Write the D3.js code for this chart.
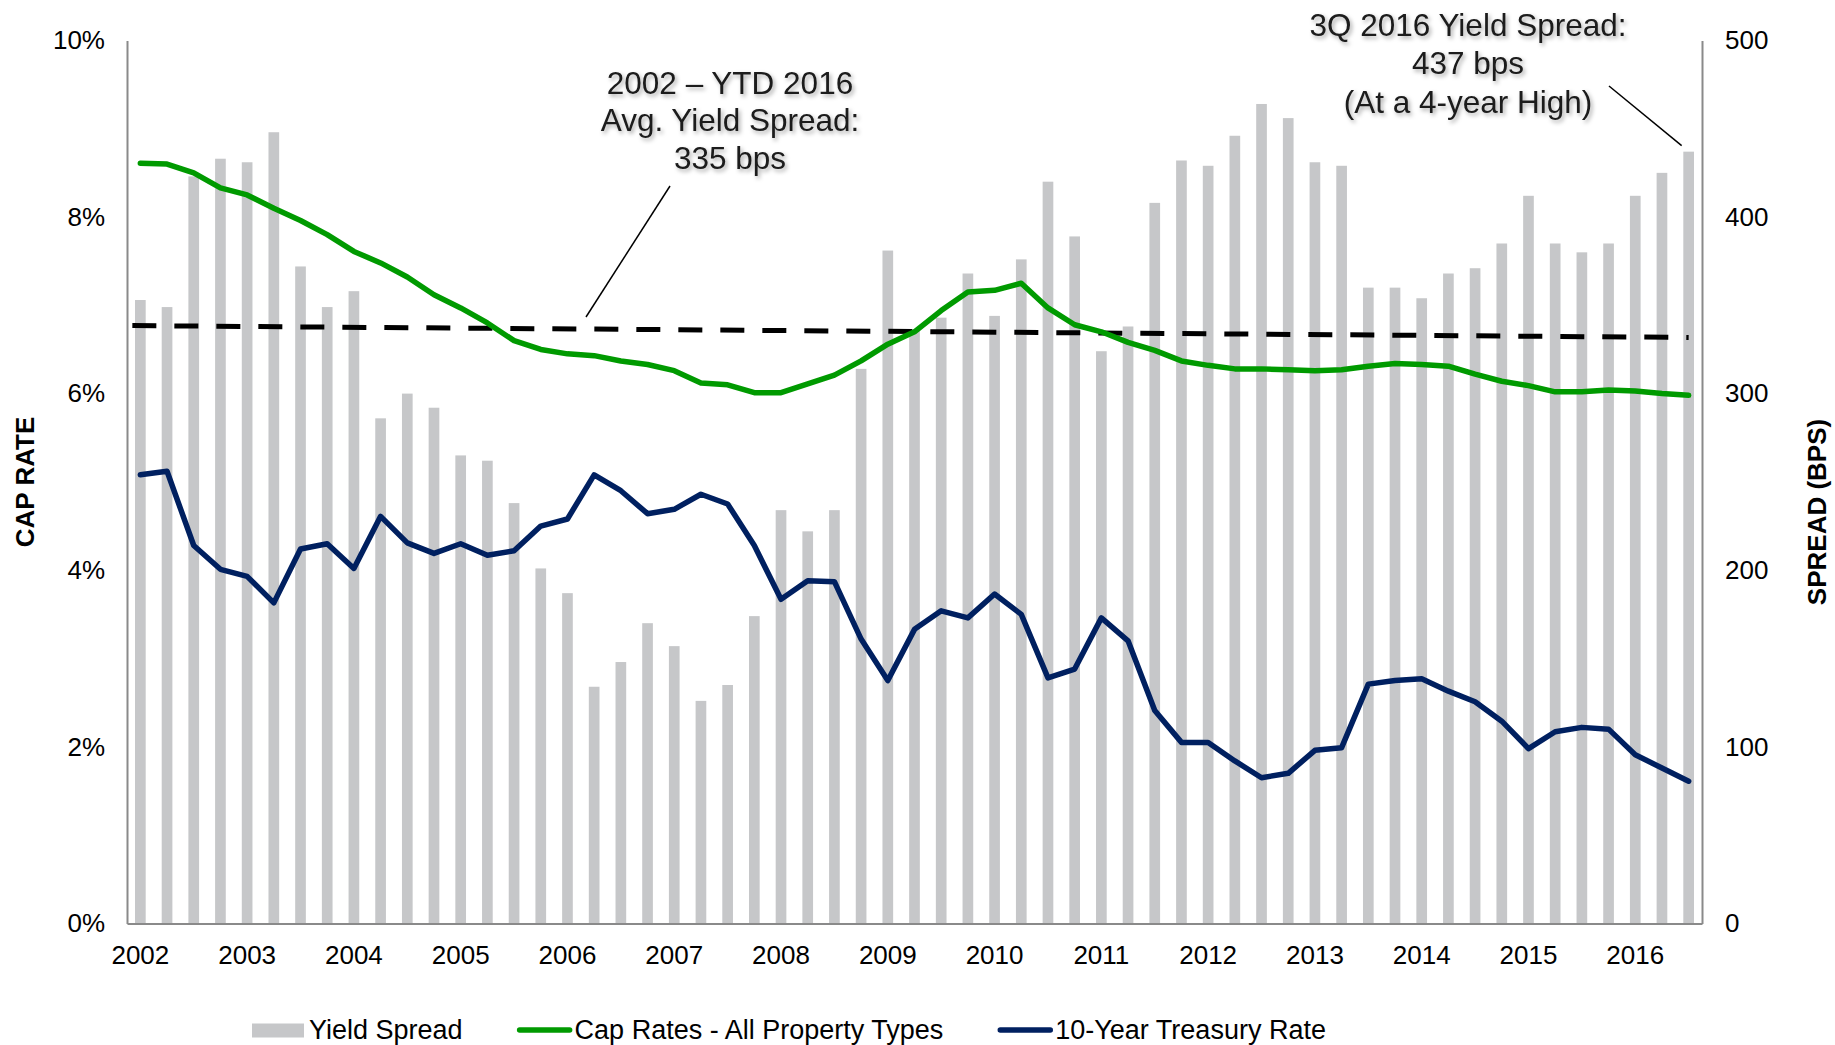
<!DOCTYPE html>
<html>
<head>
<meta charset="utf-8">
<script src="https://cdn.jsdelivr.net/npm/d3@7"></script>
<style>
	body { margin: 0; background: #fff; }
	svg { display: block; font-family: "Liberation Sans", Arial, sans-serif; }
	.axis text { font-size: 26px; fill: #000; }
	.axis path { stroke: #8a8a8a; stroke-width: 2; }
	.note { font-size: 31.5px; fill: #1a1a1a; }
</style>
</head>
<body>
<svg width="1835" height="1045"></svg>
<script>
var years = ["2002", "2003", "2004", "2005", "2006", "2007", "2008", "2009", "2010", "2011", "2012", "2013", "2014", "2015", "2016"];
var quarterNames = ["Q1", "Q2", "Q3", "Q4"];

// yield spread, bps (2002 Q1 .. 2016 Q3)
var spread = [353, 349, 423, 433, 431, 448, 372, 349, 358, 286, 300, 292, 265, 262, 238, 201,
	187, 134, 148, 170, 157, 126, 135, 174, 234, 222, 234, 314, 381, 336, 343, 368,
	344, 376, 420, 389, 324, 338, 408, 432, 429, 446, 464, 456, 431, 429, 360, 360,
	354, 368, 371, 385, 412, 385, 380, 385, 412, 425, 437];

// cap rates - all property types, %
var capRate = [8.61, 8.60, 8.50, 8.33, 8.25, 8.10, 7.96, 7.80, 7.61, 7.48, 7.32, 7.12, 6.97, 6.80, 6.60, 6.50,
	6.45, 6.43, 6.37, 6.33, 6.26, 6.12, 6.10, 6.01, 6.01, 6.11, 6.21, 6.37, 6.56, 6.70, 6.94, 7.15,
	7.17, 7.25, 6.97, 6.78, 6.70, 6.58, 6.49, 6.37, 6.32, 6.28, 6.28, 6.27, 6.26, 6.27, 6.31, 6.34,
	6.33, 6.31, 6.22, 6.14, 6.09, 6.02, 6.02, 6.04, 6.03, 6.00, 5.98];

// 10-year treasury, %
var treasury = [5.08, 5.12, 4.28, 4.01, 3.93, 3.63, 4.24, 4.30, 4.02, 4.61, 4.31, 4.19, 4.30, 4.17, 4.22, 4.50,
	4.58, 5.08, 4.90, 4.64, 4.69, 4.86, 4.75, 4.28, 3.67, 3.88, 3.87, 3.22, 2.75, 3.33, 3.54, 3.46,
	3.73, 3.50, 2.78, 2.88, 3.46, 3.20, 2.41, 2.05, 2.05, 1.84, 1.65, 1.70, 1.96, 1.99, 2.71, 2.75,
	2.77, 2.63, 2.51, 2.29, 1.98, 2.17, 2.22, 2.20, 1.91, 1.76, 1.61];

// avg spread trend line, start and end (bps)
var avgTrend = [338.5, 331.8];

var capTicks = [0, 2, 4, 6, 8, 10];
var spreadTicks = [0, 100, 200, 300, 400, 500];
var legendNames = ["Yield Spread", "Cap Rates - All Property Types", "10-Year Treasury Rate"];

var quarters = [];
for (var i = 0; i < years.length; i++) {
	for (var q = 0; q < 4; q++) {
		if (quarters.length < spread.length) quarters.push(years[i] + " " + quarterNames[q]);
	}
}

var barColor = "#c6c7c9",
	green = "#009a00",
	navy = "#002060";

var svg = d3.select("svg"),
	plotLeft = 127,
	plotRight = 1702,
	plotTop = 40.4,
	plotBottom = 923.4;

var x = d3.scaleBand().domain(quarters).range([plotLeft, plotRight]).paddingInner(0.6).paddingOuter(0.3);
var yL = d3.scaleLinear().domain([0, 10]).range([plotBottom, plotTop]);
var yR = d3.scaleLinear().domain([0, 500]).range([plotBottom, plotTop]);

var defs = svg.append("defs");
var shadow = defs.append("filter").attr("id", "shadow")
	.attr("x", "-10%").attr("y", "-30%").attr("width", "130%").attr("height", "160%");
shadow.append("feDropShadow")
	.attr("dx", 2).attr("dy", 2.5).attr("stdDeviation", 2)
	.attr("flood-color", "#000").attr("flood-opacity", 0.35);

// bars
svg.append("g").selectAll(".bar")
	.data(spread)
	.enter().append("rect")
	.attr("class", "bar")
	.attr("x", function(d, i) { return x(quarters[i]); })
	.attr("width", x.bandwidth())
	.attr("y", function(d) { return yR(d); })
	.attr("height", function(d) { return plotBottom - yR(d); })
	.attr("fill", barColor);

// axes
svg.append("g")
	.attr("class", "axis")
	.attr("transform", "translate(" + plotLeft + ",0)")
	.call(d3.axisLeft(yL).tickValues(capTicks).tickSize(0).tickPadding(22)
		.tickFormat(function(d) { return d + "%"; }));

svg.append("g")
	.attr("class", "axis")
	.attr("transform", "translate(" + plotRight + ",0)")
	.call(d3.axisRight(yR).tickValues(spreadTicks).tickSize(0).tickPadding(23));

svg.append("g")
	.attr("class", "axis")
	.attr("transform", "translate(0," + plotBottom + ")")
	.call(d3.axisBottom(x)
		.tickValues(quarters.filter(function(d) { return d.slice(-2) == "Q1"; }))
		.tickSize(0).tickPadding(22)
		.tickFormat(function(d) { return d.slice(0, 4); }));

svg.selectAll(".axis .domain").attr("stroke", "#8a8a8a");

// axis titles
svg.append("text")
	.attr("transform", "translate(25,482) rotate(-90)")
	.attr("text-anchor", "middle")
	.attr("dy", "0.35em")
	.style("font-size", "26px")
	.style("font-weight", "bold")
	.text("CAP RATE");

svg.append("text")
	.attr("transform", "translate(1817,512) rotate(-90)")
	.attr("text-anchor", "middle")
	.attr("dy", "0.35em")
	.style("font-size", "26px")
	.style("font-weight", "bold")
	.text("SPREAD (BPS)");

var cx = function(i) { return x(quarters[i]) + x.bandwidth() / 2; };
var last = spread.length - 1;

// average trend line
svg.append("line")
	.attr("x1", cx(0) - 8)
	.attr("y1", yR(avgTrend[0]))
	.attr("x2", cx(last))
	.attr("y2", yR(avgTrend[1]))
	.attr("stroke", "#000")
	.attr("stroke-width", 5)
	.attr("stroke-dasharray", "24,18");

var lineCap = d3.line()
	.x(function(d, i) { return cx(i); })
	.y(function(d) { return yL(d); });

svg.append("path")
	.datum(capRate)
	.attr("d", lineCap)
	.attr("fill", "none")
	.attr("stroke", green)
	.attr("stroke-width", 5.5)
	.attr("stroke-linejoin", "round")
	.attr("stroke-linecap", "round");

svg.append("path")
	.datum(treasury)
	.attr("d", lineCap)
	.attr("fill", "none")
	.attr("stroke", navy)
	.attr("stroke-width", 5.5)
	.attr("stroke-linejoin", "round")
	.attr("stroke-linecap", "round");

// annotations
var note1 = ["2002 \u2013 YTD 2016", "Avg. Yield Spread:", "335 bps"];
var note2 = ["3Q 2016 Yield Spread:", "437 bps", "(At a 4-year High)"];

svg.append("g").selectAll("text")
	.data(note1)
	.enter().append("text")
	.attr("class", "note")
	.attr("filter", "url(#shadow)")
	.attr("x", 730)
	.attr("y", function(d, i) { return 93.6 + i * 37.5; })
	.attr("text-anchor", "middle")
	.text(function(d) { return d; });

svg.append("g").selectAll("text")
	.data(note2)
	.enter().append("text")
	.attr("class", "note")
	.attr("filter", "url(#shadow)")
	.attr("x", 1468)
	.attr("y", function(d, i) { return 35.7 + i * 38.5; })
	.attr("text-anchor", "middle")
	.text(function(d) { return d; });

svg.append("line")
	.attr("x1", 670).attr("y1", 186)
	.attr("x2", 586).attr("y2", 317)
	.attr("stroke", "#000").attr("stroke-width", 1.5);

svg.append("line")
	.attr("x1", 1609).attr("y1", 86)
	.attr("x2", cx(last) - 7).attr("y2", yR(spread[last]) - 6)
	.attr("stroke", "#000").attr("stroke-width", 1.5);

// legend
var legend = svg.append("g").attr("transform", "translate(252,0)");
var lx = 0;
for (var k = 0; k < legendNames.length; k++) {
	if (k == 0) {
		legend.append("rect")
			.attr("x", lx).attr("y", 1023.5)
			.attr("width", 52).attr("height", 14)
			.attr("fill", barColor);
	} else {
		legend.append("line")
			.attr("x1", lx + 2).attr("y1", 1030)
			.attr("x2", lx + 52).attr("y2", 1030)
			.attr("stroke", k == 1 ? green : navy)
			.attr("stroke-width", 5.5)
			.attr("stroke-linecap", "round");
	}
	var t = legend.append("text")
		.attr("x", lx + 57)
		.attr("y", 1039)
		.style("font-size", "27px")
		.text(legendNames[k]);
	lx = lx + 57 + t.node().getComputedTextLength() + 55;
}
</script>
</body>
</html>
